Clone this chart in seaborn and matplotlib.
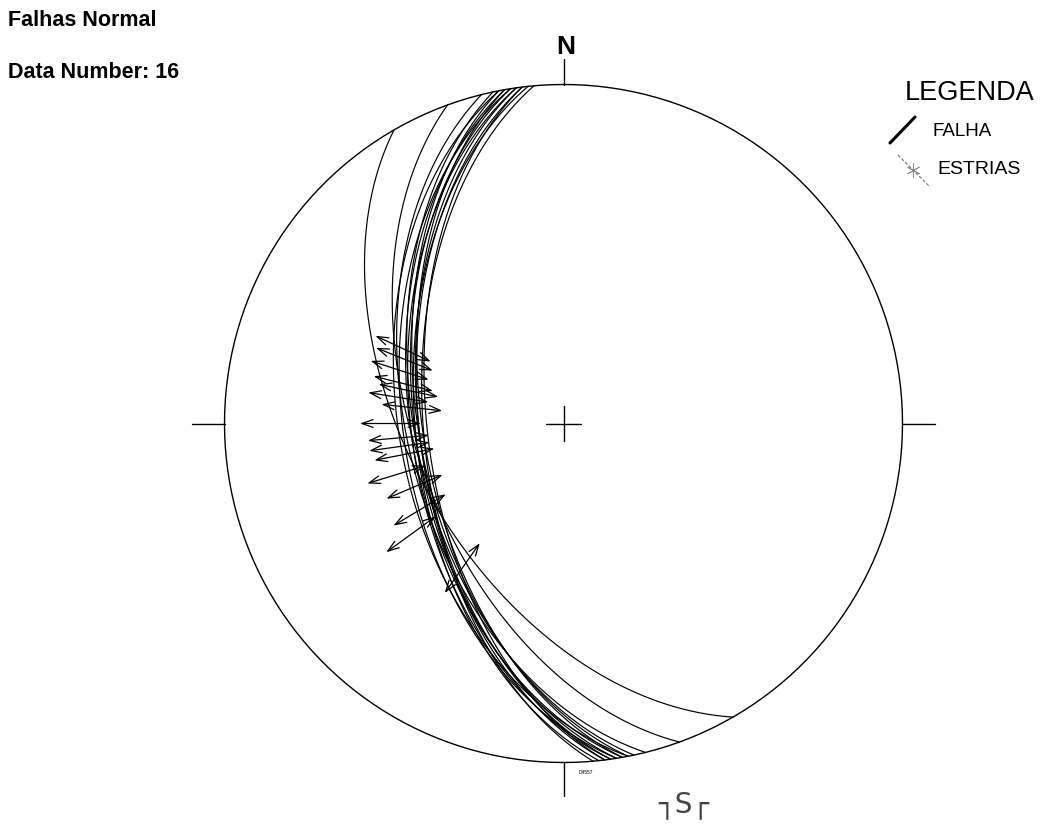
import numpy as np
import pandas as pd
import matplotlib
matplotlib.use("Agg")
import matplotlib.pyplot as plt
import seaborn as sns
from matplotlib.lines import Line2D

# ---------------- data ----------------
title_text = "Falhas Normal"
count_text = "Data Number: 16"
legend_title = "LEGENDA"
legend_items = ["FALHA", "ESTRIAS"]

# fault planes: dip direction (deg) and dip (deg)
fault_dipdir = [240, 250, 256, 259, 259, 260, 260, 261, 261, 262, 262, 263, 263, 264, 265, 258]
fault_dip = [53, 54, 52, 50, 55, 53, 56, 54, 51, 55, 53, 55, 57, 54, 56, 54]
# striae: trend (deg) of the slip lineation lying on each fault plane
stria_trend = [215, 247, 270, 234, 288, 262, 292, 279, 253, 295, 265, 284, 276, 259, 282, 239]

# ---------------- projection helpers (Schmidt, lower hemisphere) ----------------
def project(trend_deg, plunge_deg):
    tr = np.radians(trend_deg)
    pl = np.radians(plunge_deg)
    r = np.sqrt(2.0) * np.sin(np.pi / 4 - pl / 2)
    return r * np.sin(tr), r * np.cos(tr)


def great_circle(dd, dip, n=181):
    t = np.linspace(0, np.pi, n)
    s = np.radians(dd - 90)
    ddr = np.radians(dd)
    d = np.radians(dip)
    S = np.array([np.cos(s), np.sin(s), 0.0])
    D = np.array([np.cos(ddr) * np.cos(d), np.sin(ddr) * np.cos(d), np.sin(d)])
    L = np.outer(np.cos(t), S) + np.outer(np.sin(t), D)
    down = np.clip(L[:, 2], 0, 1)
    pl = np.degrees(np.arcsin(down))
    tr = np.degrees(np.arctan2(L[:, 1], L[:, 0]))
    return project(tr, pl)


rows = []
for i, (dd, dp) in enumerate(zip(fault_dipdir, fault_dip)):
    x, y = great_circle(dd, dp)
    for xx, yy in zip(x, y):
        rows.append({"fault": i, "x": xx, "y": yy})
gc_df = pd.DataFrame(rows)

th = np.linspace(0, 2 * np.pi, 361)
prim_df = pd.DataFrame({"x": np.cos(th), "y": np.sin(th), "u": 0})

# ---------------- figure ----------------
sns.set_style("white")
plt.rcParams["font.family"] = ["Liberation Sans", "DejaVu Sans"]
plt.rcParams["text.color"] = "black"

W, H = 1044, 825
fig = plt.figure(figsize=(W / 100, H / 100), dpi=100)
cx, cy, R = 563.5, 423.5, 339.0
half = 400.0
ax = fig.add_axes([(cx - half) / W, (H - (cy + half)) / H, 2 * half / W, 2 * half / H])
lim = half / R
ax.set_xlim(-lim, lim)
ax.set_ylim(-lim, lim)
ax.set_aspect("equal")
ax.axis("off")

# primitive
sns.lineplot(data=prim_df, x="x", y="y", units="u", estimator=None, sort=False,
             color="black", lw=1.0, ax=ax, legend=False)
# great circles
sns.lineplot(data=gc_df, x="x", y="y", units="fault", estimator=None, sort=False,
             color="black", lw=0.85, ax=ax, legend=False)

# striae arrows
for dd, dp, tr in zip(fault_dipdir, fault_dip, stria_trend):
    pl = np.degrees(np.arctan(np.tan(np.radians(dp)) * np.cos(np.radians(tr - dd))))
    px, py = project(tr, pl)
    ux, uy = np.sin(np.radians(tr)), np.cos(np.radians(tr))
    a = (px - 0.05 * ux, py - 0.05 * uy)
    b = (px + 0.13 * ux, py + 0.13 * uy)
    ax.annotate("", xy=b, xytext=a,
                arrowprops=dict(arrowstyle="<->,head_length=0.8,head_width=0.28",
                                color="black", lw=0.9, shrinkA=0, shrinkB=0))

# ticks and centre cross
k = dict(color="black", lw=1.0)
ax.plot([-1.097, -1.0], [0, 0], **k)
ax.plot([1.0, 1.097], [0, 0], **k)
ax.plot([0, 0], [1.0, 1.075], **k)
ax.plot([0, 0], [-1.0, -1.10], **k)
ax.plot([-0.052, 0.052], [0, 0], **k)
ax.plot([0, 0], [-0.052, 0.052], **k)

# texts
def ft(x, y, s, **kw):
    fig.text(x / W, 1 - y / H, s, **kw)

ft(8, 21, title_text, fontsize=15.5, fontweight="bold", va="center", ha="left")
ft(8, 72, count_text, fontsize=15.5, fontweight="bold", va="center", ha="left")
ft(566, 47, "N", fontsize=19, fontweight="bold", va="center", ha="center")
ft(684, 805, "┐S┌", fontsize=20, color="#444444", va="center", ha="center",
   family=["DejaVu Sans", "Noto Sans CJK JP"], fontweight="normal")
ft(586, 772, "D4557", fontsize=3.5, va="center", ha="center")

ft(905, 93, legend_title, fontsize=19.5, va="center", ha="left")
ft(932, 131, legend_items[0], fontsize=13.5, va="center", ha="left")
ft(937, 170, legend_items[1], fontsize=14, va="center", ha="left")

fig.add_artist(Line2D([890 / W, 915 / W], [1 - 143 / H, 1 - 117 / H],
                      transform=fig.transFigure, color="black", lw=2.2))
fig.add_artist(Line2D([898 / W, 930 / W], [1 - 155 / H, 1 - 187 / H],
                      transform=fig.transFigure, color="#777777", lw=0.8, ls=(0, (3, 1.5))))
fig.add_artist(Line2D([913 / W], [1 - 170 / H], transform=fig.transFigure,
                      marker=(6, 2, 0), markersize=10, color="#888888", mew=0.6, ls="none"))

fig.savefig("out.png", dpi=100, facecolor="white")
